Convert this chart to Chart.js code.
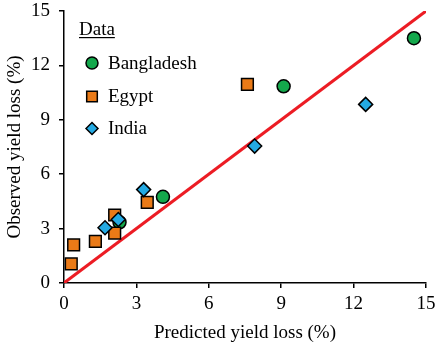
<!DOCTYPE html>
<html>
<head>
<meta charset="utf-8">
<script src="https://cdn.jsdelivr.net/npm/chart.js@4.4.1/dist/chart.umd.min.js"></script>
<style>
  html, body { margin: 0; padding: 0; background: #fff; }
  #wrap { width: 437px; height: 346px; }
</style>
</head>
<body>
<div id="wrap"><canvas id="yieldChart" width="437" height="346"></canvas></div>
<script>
// predicted (x) and observed (y) yield loss, %
var bangladeshX = [14.5, 9.1, 4.1, 2.3];
var bangladeshY = [13.5, 10.85, 4.75, 3.35];
var egyptX = [7.6, 0.3, 0.4, 1.3, 2.1, 2.1, 3.45];
var egyptY = [10.95, 1.05, 2.1, 2.3, 2.75, 3.75, 4.45];
var indiaX = [12.5, 7.9, 1.7, 2.25, 3.3];
var indiaY = [9.85, 7.55, 3.05, 3.5, 5.15];
var oneToOneX = [0, 15];
var oneToOneY = [0, 15];
var axisTicks = [0, 3, 6, 9, 12, 15];

function pairs(xs, ys) {
    return xs.map(function (x, i) { return { x: x, y: ys[i] }; });
}

var serif = "'Liberation Serif', 'Times New Roman', serif";
Chart.defaults.font.family = serif;
Chart.defaults.color = '#000';

// legend drawn inside the plot area, "Data" title underlined
var insideLegend = {
    id: 'insideLegend',
    afterDatasetsDraw: function (chart) {
        var c = chart.ctx;
        c.save();
        c.font = '19px ' + serif;
        c.fillStyle = '#000';
        c.textBaseline = 'alphabetic';
        c.textAlign = 'left';
        c.fillText('Data', 79, 35);
        var w = c.measureText('Data').width;
        c.fillRect(79, 37, w, 1.2);
        var rows = [
            { label: 'Bangladesh', ds: 0, y: 63 },
            { label: 'Egypt', ds: 1, y: 96.5 },
            { label: 'India', ds: 2, y: 128.5 }
        ];
        rows.forEach(function (r) {
            var d = chart.data.datasets[r.ds];
            c.fillStyle = d.backgroundColor;
            c.strokeStyle = '#000';
            c.lineWidth = 1.5;
            Chart.helpers.drawPoint(c, {
                pointStyle: d.pointStyle,
                radius: r.ds === 1 ? 7.5 : 6,
                rotation: 0,
                borderWidth: 1.5
            }, 92, r.y);
            c.fillStyle = '#000';
            c.textBaseline = 'middle';
            c.fillText(r.label, 108, r.y + 1);
        });
        c.restore();
    }
};

var ctx = document.getElementById('yieldChart').getContext('2d');
var chart = new Chart(ctx, {
    type: 'scatter',
    data: {
        datasets: [{
            label: 'Bangladesh',
            data: pairs(bangladeshX, bangladeshY),
            pointStyle: 'circle',
            pointRadius: 6.5,
            backgroundColor: '#14a84c',
            borderColor: '#000',
            borderWidth: 1.5,
            order: 3
        }, {
            label: 'Egypt',
            data: pairs(egyptX, egyptY),
            pointStyle: 'rect',
            pointRadius: 8.3,
            backgroundColor: '#ea7a17',
            borderColor: '#000',
            borderWidth: 1.5,
            order: 2
        }, {
            label: 'India',
            data: pairs(indiaX, indiaY),
            pointStyle: 'rectRot',
            pointRadius: 7,
            backgroundColor: '#24aae3',
            borderColor: '#000',
            borderWidth: 1.5,
            order: 1
        }, {
            type: 'line',
            label: '1:1',
            data: pairs(oneToOneX, oneToOneY),
            borderColor: '#ec1c24',
            borderWidth: 3,
            pointRadius: 0,
            fill: false,
            order: 10
        }]
    },
    options: {
        responsive: false,
        animation: false,
        layout: { padding: 0 },
        plugins: {
            legend: { display: false },
            tooltip: { enabled: false }
        },
        scales: {
            x: {
                type: 'linear',
                min: 0,
                max: 15,
                afterBuildTicks: function (s) { s.ticks = axisTicks.map(function (v) { return { value: v }; }); },
                afterFit: function (s) { s.height = 63; s.paddingLeft = 0; s.paddingRight = 11; },
                grid: { display: true, drawOnChartArea: false, drawTicks: true, tickLength: 5, color: '#000', lineWidth: 1.5 },
                border: { color: '#000', width: 1.5 },
                ticks: { font: { size: 19 }, padding: 5, color: '#000' },
                title: { display: true, text: 'Predicted yield loss (%)', font: { size: 19 }, color: '#000', padding: { top: 0, bottom: 2 } }
            },
            y: {
                type: 'linear',
                min: 0,
                max: 15,
                afterBuildTicks: function (s) { s.ticks = axisTicks.map(function (v) { return { value: v }; }); },
                afterFit: function (s) { s.width = 64; s.paddingTop = 11; s.paddingBottom = 0; },
                grid: { display: true, drawOnChartArea: false, drawTicks: true, tickLength: 5, color: '#000', lineWidth: 1.5 },
                border: { color: '#000', width: 1.5 },
                ticks: { font: { size: 19 }, padding: 9, color: '#000' },
                title: { display: true, text: 'Observed yield loss (%)', font: { size: 19 }, color: '#000', padding: { top: 4, bottom: 0 } }
            }
        }
    },
    plugins: [insideLegend]
});
</script>
</body>
</html>
